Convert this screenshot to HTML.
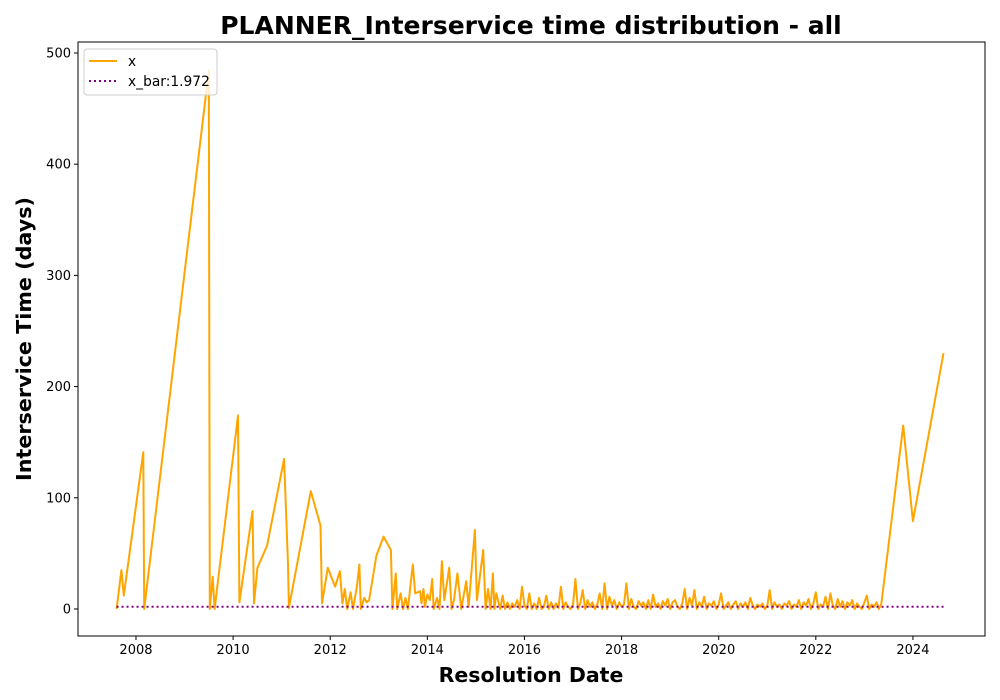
<!DOCTYPE html>
<html><head><meta charset="utf-8">
<style>
body{margin:0;background:#fff;}
svg{display:block;font-family:"DejaVu Sans","Liberation Sans",sans-serif;}
</style></head>
<body>
<svg id="chart" width="1000" height="700" viewBox="0 0 1000 700">
<rect x="0" y="0" width="1000" height="700" fill="#fff"/>
<text x="531" y="34" text-anchor="middle" font-size="25" font-weight="bold">PLANNER_Interservice time distribution - all</text>
<g id="plot"></g>
<text x="531" y="682" text-anchor="middle" font-size="20.5" font-weight="bold">Resolution Date</text>
<text transform="translate(31,339) rotate(-90)" text-anchor="middle" font-size="20.7" font-weight="bold">Interservice Time (days)</text>
</svg>
<script>
const dates=[2007.6,2007.7,2007.75,2008.15,2008.17,2009.5,2009.52,2009.58,2009.62,2010.1,2010.13,2010.4,2010.43,2010.5,2010.7,2011.05,2011.13,2011.15,2011.6,2011.8,2011.83,2011.95,2012.1,2012.2,2012.25,2012.3,2012.35,2012.42,2012.47,2012.55,2012.6,2012.63,2012.7,2012.75,2012.8,2012.95,2013.1,2013.25,2013.28,2013.35,2013.38,2013.45,2013.5,2013.55,2013.6,2013.7,2013.75,2013.85,2013.88,2013.92,2013.95,2014.0,2014.05,2014.1,2014.13,2014.2,2014.25,2014.3,2014.35,2014.45,2014.5,2014.55,2014.62,2014.7,2014.8,2014.85,2014.98,2015.02,2015.15,2015.2,2015.25,2015.3,2015.35,2015.38,2015.42,2015.5,2015.55];
const values=[0,35,12,141,0,484,0,29,0,174,6,88,5,37,57,135,40,1,106,75,5,37,20,34,5,18,0,15,0,20,40,0,10,6,8,48,65,53,0,32,0,14,0,10,0,40,14,16,5,18,2,13,8,27,0,10,0,43,8,37,0,8,32,0,25,2,71,8,53,0,18,0,32,0,14,0,12];
const denseStart=2015.6, denseStep=0.05;
const denseValues=[0,6,0,5,2,8,0,20,3,0,14,0,5,0,10,0,2,12,0,6,
0,5,1,20,0,6,2,0,4,27,0,5,17,0,8,2,6,0,4,14,
0,23,0,11,3,8,0,6,2,4,23,0,9,2,0,7,3,6,0,8,
0,13,2,5,0,7,3,9,0,6,8,2,0,5,18,0,10,3,17,0,
6,2,11,0,5,3,7,0,4,14,0,3,6,0,4,7,0,5,2,6,
0,10,3,0,4,2,5,0,3,17,0,6,2,4,0,5,3,7,0,4,
2,8,0,6,3,9,0,5,15,0,4,2,11,0,14,3,0,9,2,7,
0,6,3,8,0,5,2,0,6,12,0,4,2,6,0];
const tailDates=[2023.35,2023.8,2024.0,2024.63];
const tailValues=[5,165,79,230];
const xbar=1.972;
const xTicks=[2008,2010,2012,2014,2016,2018,2020,2022,2024];
const yTicks=[0,100,200,300,400,500];

const L=78,R=985,T=42,B=636;
const xMin=2006.806,xMax=2025.484,yMin=-24.3,yMax=509.9;
const xs=v=>L+(v-xMin)/(xMax-xMin)*(R-L);
const ys=v=>B-(v-yMin)/(yMax-yMin)*(B-T);
const NS="http://www.w3.org/2000/svg";
const g=document.getElementById('plot');
function mk(t,a){const e=document.createElementNS(NS,t);for(const k in a)e.setAttribute(k,a[k]);g.appendChild(e);return e;}

const pts=[];
dates.forEach((d,i)=>pts.push([d,values[i]]));
denseValues.forEach((v,i)=>pts.push([denseStart+i*denseStep,v]));
tailDates.forEach((d,i)=>pts.push([d,tailValues[i]]));

const line=mk('polyline',{points:pts.map(p=>xs(p[0]).toFixed(1)+','+ys(p[1]).toFixed(1)).join(' '),fill:'none',stroke:'#ffa500','stroke-width':2,'stroke-linejoin':'round'});


const xb=mk('line',{x1:xs(pts[0][0]),x2:xs(pts[pts.length-1][0]),y1:ys(xbar),y2:ys(xbar),stroke:'#800080','stroke-width':2,'stroke-dasharray':'2,3'});



const frame=mk('rect',{x:L,y:T,width:R-L,height:B-T,fill:'none',stroke:'#000','stroke-width':1});



xTicks.forEach(t=>{
  const x=xs(t);
  const tk=mk('line',{x1:x,x2:x,y1:B,y2:B+4,stroke:'#000'});
  
  
  const lb=mk('text',{x:x,y:B+18,'text-anchor':'middle','font-size':13});
  lb.textContent=t;
  
  
});
yTicks.forEach(t=>{
  const y=ys(t);
  const tk=mk('line',{x1:L-4,x2:L,y1:y,y2:y,stroke:'#000'});
  
  
  const lb=mk('text',{x:L-7,y:y+4.5,'text-anchor':'end','font-size':13});
  lb.textContent=t;
  
  
});

const lg=mk('rect',{x:84,y:49,width:133,height:46,rx:3,fill:'#fff','fill-opacity':0.8,stroke:'#ccc'});


const l1=mk('line',{x1:89,x2:117,y1:61,y2:61,stroke:'#ffa500','stroke-width':2});


const t1=mk('text',{x:128,y:66,'font-size':13.8});
t1.textContent='x';


const l2=mk('line',{x1:89,x2:117,y1:81,y2:81,stroke:'#800080','stroke-width':2,'stroke-dasharray':'2,3'});


const t2=mk('text',{x:128,y:86,'font-size':13.8});
t2.textContent='x_bar:1.972';


</script>
</body></html>
